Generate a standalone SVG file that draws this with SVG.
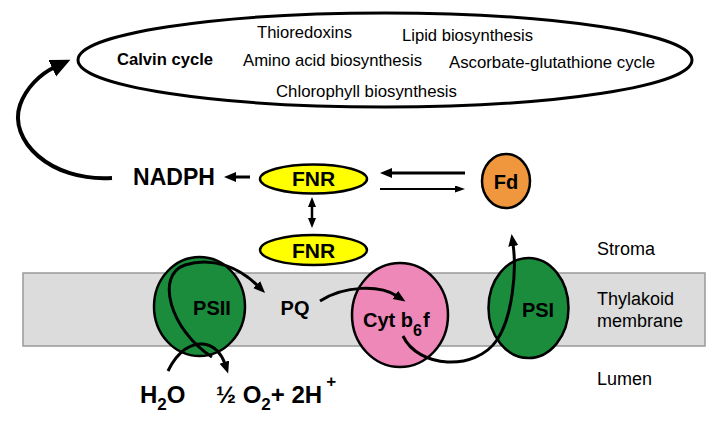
<svg xmlns="http://www.w3.org/2000/svg" width="726" height="422" viewBox="0 0 726 422">
<style>
text{font-family:"Liberation Sans",Arial,sans-serif;fill:#000}
.pw{font-size:17px}
.b{font-weight:bold}
.node{stroke:#000;stroke-width:2.5}
.lab{font-size:18px}
.conn{fill:none;stroke:#000;stroke-linecap:butt}
</style>
<defs>
<marker id="ahBig" markerUnits="userSpaceOnUse" markerWidth="22" markerHeight="20" refX="3" refY="9" orient="auto"><path d="M0,0 L20,9 L0,18 z" fill="#000"/></marker>
<marker id="ah" markerUnits="userSpaceOnUse" markerWidth="14" markerHeight="12" refX="2" refY="5" orient="auto"><path d="M0,0 L12,5 L0,10 z" fill="#000"/></marker>
<marker id="ahS" markerUnits="userSpaceOnUse" markerWidth="12" markerHeight="10" refX="1" refY="4" orient="auto-start-reverse"><path d="M0,0 L10,4 L0,8 z" fill="#000"/></marker>
<marker id="ahT" markerUnits="userSpaceOnUse" markerWidth="12" markerHeight="10" refX="1" refY="3.5" orient="auto"><path d="M0,0 L10,3.5 L0,7 z" fill="#000"/></marker>
</defs>
<rect width="726" height="422" fill="#fff"/>

<g id="membrane">
<rect x="23" y="273" width="682" height="73" fill="#dcdcdc" stroke="#999" stroke-width="1.5"/>
</g>

<g id="pathways">
<ellipse cx="385" cy="60" rx="307" ry="47" fill="#fff" stroke="#000" stroke-width="3"/>
<text class="pw b" x="117" y="65" textLength="96" lengthAdjust="spacingAndGlyphs">Calvin cycle</text>
<text class="pw" x="257" y="38" textLength="95" lengthAdjust="spacingAndGlyphs">Thioredoxins</text>
<text class="pw" x="402" y="41" textLength="131" lengthAdjust="spacingAndGlyphs">Lipid biosynthesis</text>
<text class="pw" x="243" y="66" textLength="179" lengthAdjust="spacingAndGlyphs">Amino acid biosynthesis</text>
<text class="pw" x="449" y="68" textLength="206" lengthAdjust="spacingAndGlyphs">Ascorbate-glutathione cycle</text>
<text class="pw" x="276" y="97" textLength="181" lengthAdjust="spacingAndGlyphs">Chlorophyll biosynthesis</text>
</g>

<g id="nadph"><text class="b" x="174" y="185" font-size="23" text-anchor="middle">NADPH</text></g>

<g id="fnr-top">
<ellipse class="node" cx="313.5" cy="179" rx="53.5" ry="14.5" fill="#ffff00"/>
<text class="b" x="313.5" y="186" font-size="21" text-anchor="middle">FNR</text>
</g>
<g id="fnr-bottom">
<ellipse class="node" cx="313.5" cy="250" rx="53.5" ry="15" fill="#ffff00"/>
<text class="b" x="313.5" y="258" font-size="21" text-anchor="middle">FNR</text>
</g>
<g id="fd">
<ellipse class="node" cx="506" cy="181" rx="24" ry="27" fill="#f0963c"/>
<text class="b" x="506" y="189" font-size="20" text-anchor="middle">Fd</text>
</g>

<g id="psii">
<ellipse class="node" cx="199.5" cy="306.5" rx="45.5" ry="49.5" fill="#1a8c3c"/>
<text class="b" x="212" y="315" font-size="20" text-anchor="middle">PSII</text>
</g>
<g id="pq"><text class="b" x="295" y="315" font-size="20" text-anchor="middle">PQ</text></g>
<g id="cytb6f">
<ellipse class="node" cx="400" cy="315" rx="48" ry="52" fill="#ee88b8"/>
<text class="b" x="363" y="327" font-size="20">Cyt b<tspan font-size="16" dy="9">6</tspan><tspan dy="-9" dx="1">f</tspan></text>
</g>
<g id="psi">
<ellipse class="node" cx="528.5" cy="308" rx="40" ry="50" fill="#1a8c3c"/>
<text class="b" x="538" y="317" font-size="20" text-anchor="middle">PSI</text>
</g>

<g id="h2o"><text class="b" x="140" y="403" font-size="24">H<tspan font-size="17" dy="7">2</tspan><tspan dy="-7">O</tspan></text></g>
<g id="o2"><text class="b" x="216" y="403" font-size="24">½ O<tspan font-size="17" dy="7">2</tspan><tspan dy="-7">+ 2H</tspan><tspan font-size="17" dy="-16" dx="4">+</tspan></text></g>

<g id="labels">
<text class="lab" x="597" y="255">Stroma</text>
<text class="lab" x="597" y="305">Thylakoid</text>
<text class="lab" x="597" y="327">membrane</text>
<text class="lab" x="597" y="385">Lumen</text>
</g>

<g id="connectors">
<path class="conn" stroke-width="4" d="M112 178 C50 182 8 140 20 105 C26 88 40 74 55 67" marker-end="url(#ahBig)"/>
<path class="conn" stroke-width="3" d="M250 177 L234 177" marker-end="url(#ah)"/>
<path class="conn" stroke-width="3" d="M465 173 L390 173" marker-end="url(#ah)"/>
<path class="conn" stroke-width="2" d="M380 189 L456 189" marker-end="url(#ahT)"/>
<path class="conn" stroke-width="2.5" d="M312 206 L312 219" marker-start="url(#ahS)" marker-end="url(#ahS)"/>
<path class="conn" stroke-width="3" d="M212 357 C170 330 155 275 185 265 C213 256 240 268 258 286" marker-end="url(#ah)"/>
<path class="conn" stroke-width="3" d="M168 371 C178 350 192 343 203 344 C215 345 222 355 225 364" marker-end="url(#ah)"/>
<path class="conn" stroke-width="3" d="M320 301 C345 285 380 285 397 296" marker-end="url(#ah)"/>
<path class="conn" stroke-width="3" d="M403 336 C418 368 475 372 497 340 C512 318 517 272 513 244" marker-end="url(#ah)"/>
</g>
</svg>
